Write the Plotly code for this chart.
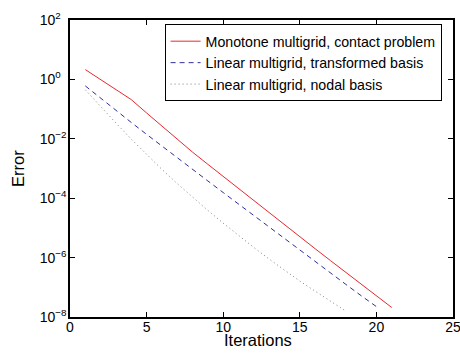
import plotly.graph_objects as go

# Iteration numbers for each series
iters_monotone = list(range(1, 22))
iters_transformed = list(range(1, 21))
iters_nodal = list(range(1, 19))

# Error values (log10 scale estimates)
err_monotone = [10 ** v for v in [0.33, 0.0, -0.33, -0.68, -1.13, -1.58, -2.02, -2.45, -2.86,
                                   -3.27, -3.68, -4.09, -4.50, -4.90, -5.30, -5.70, -6.10,
                                   -6.50, -6.90, -7.29, -7.68]]
err_transformed = [10 ** v for v in [-0.22, -0.64, -1.05, -1.45, -1.85, -2.25, -2.64, -3.03,
                                      -3.42, -3.81, -4.20, -4.59, -4.98, -5.37, -5.76, -6.14,
                                      -6.52, -6.90, -7.28, -7.65]]
err_nodal = [10 ** v for v in [-0.35, -0.92, -1.47, -2.01, -2.53, -3.03, -3.51, -3.97, -4.41,
                                -4.84, -5.26, -5.66, -6.05, -6.43, -6.79, -7.13, -7.47, -7.80]]

names = ["Monotone multigrid, contact problem",
         "Linear multigrid, transformed basis",
         "Linear multigrid, nodal basis"]

HID = "<span style='color:rgba(0,0,0,0)'>−</span>"
y_tickvals = [1e-8, 1e-6, 1e-4, 1e-2, 1e0, 1e2]
y_ticktext = ["10<sup>−8</sup>", "10<sup>−6</sup>", "10<sup>−4</sup>", "10<sup>−2</sup>",
              "10<sup>0" + HID + "</sup>", "10<sup>2" + HID + "</sup>"]
x_tickvals = [0, 5, 10, 15, 20, 25]
x_title = "Iterations"
y_title = "Error"

FONT = "Liberation Sans, Arial, Helvetica, sans-serif"

fig = go.Figure()
fig.add_trace(go.Scatter(x=iters_monotone, y=err_monotone, mode="lines", name=names[0],
                         line=dict(color="#e8282e", width=1)))
fig.add_trace(go.Scatter(x=iters_transformed, y=err_transformed, mode="lines", name=names[1],
                         line=dict(color="#2d2f9a", width=1, dash="5px,4px")))
fig.add_trace(go.Scatter(x=iters_nodal, y=err_nodal, mode="lines", name=names[2],
                         line=dict(color="#808080", width=1, dash="1px,3px")))

axis_common = dict(showgrid=False, zeroline=False, showline=True, linecolor="black",
                   linewidth=1.5, mirror="ticks", ticks="inside", ticklen=5,
                   tickcolor="black", tickwidth=1, automargin=False,
                   ticklabeloverflow="allow",
                   tickfont=dict(family=FONT, size=14, color="black"))

fig.update_xaxes(range=[0, 25], tickvals=x_tickvals, ticklabelstandoff=-4, **axis_common)
fig.update_yaxes(type="log", range=[-8, 2], tickvals=y_tickvals, ticktext=y_ticktext,
                 ticklabelstandoff=-1, **axis_common)

fig.update_layout(
    width=460, height=358, autosize=False,
    margin=dict(l=70, r=7, t=19.5, b=41.3),
    paper_bgcolor="white", plot_bgcolor="white",
    font=dict(family=FONT, color="black"),
    showlegend=True,
    legend=dict(x=0.247, y=0.985, xanchor="left", yanchor="top",
                bgcolor="white", bordercolor="black", borderwidth=1,
                font=dict(family=FONT, size=14.2, color="black"),
                itemwidth=30, tracegroupgap=0),
    annotations=[
        dict(text=x_title, xref="paper", yref="paper", x=0.491, y=-0.078,
             xanchor="center", yanchor="middle", showarrow=False,
             font=dict(family=FONT, size=16.5, color="black")),
        dict(text=y_title, xref="paper", yref="paper", x=-0.137, y=0.5,
             xanchor="center", yanchor="middle", showarrow=False, textangle=-90,
             font=dict(family=FONT, size=16.5, color="black")),
    ],
)

# Remove the default 8px page margin so the 460x358 figure fills the window exactly.
fig.write_html("out.html",
               config={"displayModeBar": False},
               post_script="document.body.style.margin='0px';document.body.style.overflow='hidden';")
